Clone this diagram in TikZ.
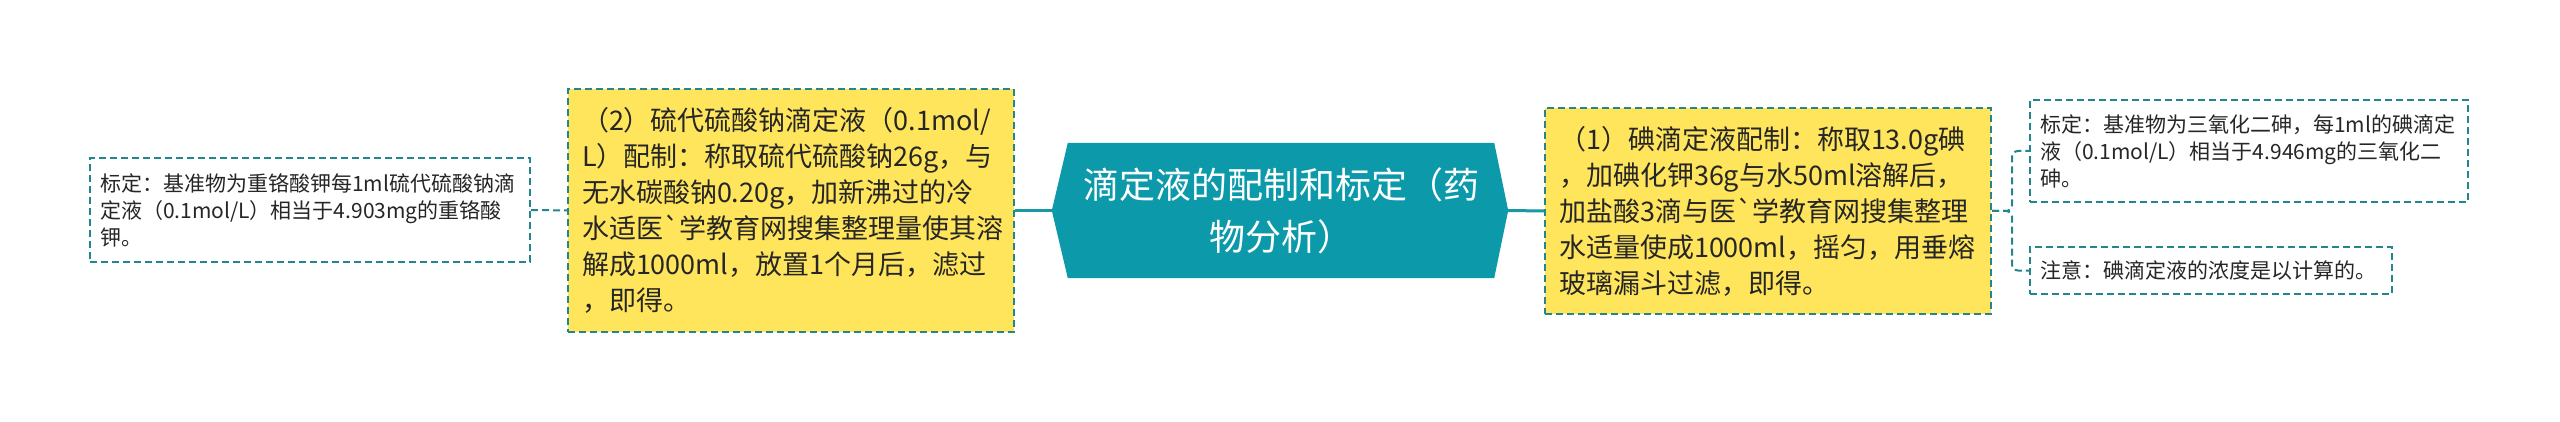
\documentclass[tikz,border=0pt]{standalone}
\usepackage{fontspec}
\newfontfamily\cjk{Noto Sans CJK SC}
\usetikzlibrary{backgrounds}
\definecolor{hubfill}{HTML}{0C9AAA}
\definecolor{linecol}{HTML}{1897A4}
\definecolor{dashcol}{HTML}{23868F}
\definecolor{yfill}{HTML}{FFE55C}
\definecolor{txt}{HTML}{262626}
\tikzset{
  ybox/.style={fill=yfill, draw=dashcol, line width=2pt, dash pattern=on 7pt off 4pt,
    inner xsep=14pt, inner ysep=0pt, align=left, text=txt,
    font=\cjk\fontsize{27pt}{36pt}\selectfont},
  wbox/.style={fill=white, draw=dashcol, line width=2pt, dash pattern=on 7pt off 4pt,
    inner xsep=10pt, inner ysep=0pt, align=left, text=txt,
    font=\cjk\fontsize{21pt}{27pt}\selectfont},
  hub/.style={inner sep=0pt, align=center, text=white,
    font=\cjk\fontsize{36pt}{52pt}\selectfont},
  sline/.style={draw=linecol, line width=3pt},
  dline/.style={draw=dashcol, line width=2pt, dash pattern=on 7pt off 4pt}
}
\begin{document}
\begin{tikzpicture}[x=1pt,y=-1pt]
\useasboundingbox (0,0) rectangle (2560,422);
\node[wbox, text width=420pt, minimum height=104pt] (L) at (310,210) {标定：基准物为重铬酸钾每1ml硫代硫酸钠滴\\定液（0.1mol/L）相当于4.903mg的重铬酸\\钾。};
\node[ybox, text width=418pt, minimum height=243pt] (Y2) at (791,210.5) {（2）硫代硫酸钠滴定液（0.1mol/\\L）配制：称取硫代硫酸钠26g，与\\无水碳酸钠0.20g，加新沸过的冷\\水适医`学教育网搜集整理量使其溶\\解成1000ml，放置1个月后，滤过\\，即得。};
\node[hub, text width=426pt, minimum height=135pt] (C) at (1281,210.5) {滴定液的配制和标定（药\\物分析）};
\coordinate (Cl) at ([xshift=-16pt]C.west);
\coordinate (Cr) at ([xshift=14pt]C.east);
\node[ybox, text width=418pt, minimum height=206pt] (Y1) at (1768,211) {（1）碘滴定液配制：称取13.0g碘\\，加碘化钾36g与水50ml溶解后，\\加盐酸3滴与医`学教育网搜集整理\\水适量使成1000ml，摇匀，用垂熔\\玻璃漏斗过滤，即得。};
\node[wbox, text width=418pt, minimum height=102pt] (R1) at (2249,151) {标定：基准物为三氧化二砷，每1ml的碘滴定\\液（0.1mol/L）相当于4.946mg的三氧化二\\砷。};
\node[wbox, text width=342pt, minimum height=47pt] (R2) at (2211,270.5) {注意：碘滴定液的浓度是以计算的。};
\begin{scope}[on background layer]
  \fill[white] (0,0) rectangle (2560,422);
  \fill[hubfill] (C.north west) -- (C.north east) -- (Cr) -- (C.south east) -- (C.south west) -- (Cl) -- cycle;
  \draw[dline] (L.east) -- (Y2.west);
  \draw[sline] (Y2.east) -- (Cl);
  \draw[sline] (Cr) -- (Y1.west);
  \draw[dline, rounded corners=6pt] (Y1.east) -- ++(20,0) |- (R1.west);
  \draw[dline, rounded corners=6pt] (Y1.east) -- ++(20,0) |- (R2.west);
\end{scope}
\end{tikzpicture}
\end{document}
